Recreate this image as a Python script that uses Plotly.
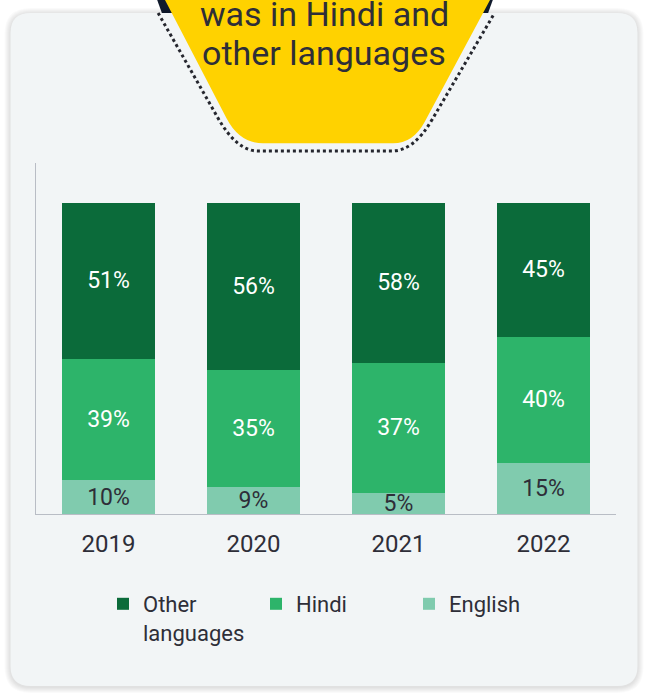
import plotly.graph_objects as go

# ---- data ----
years = ["2019", "2020", "2021", "2022"]
series_names = ["English", "Hindi", "Other<br>languages"]
english_share = [10.9, 8.8, 6.8, 16.5]
hindi_share = [38.9, 37.3, 41.8, 40.5]
other_share = [50.2, 53.9, 51.4, 43.0]
english_label = ["10%", "9%", "5%", "15%"]
hindi_label = ["39%", "35%", "37%", "40%"]
other_label = ["51%", "56%", "58%", "45%"]
header_lines = ["was in Hindi and", "other languages"]

# ---- style ----
C_OTHER = "#0b6b3a"
C_HINDI = "#2db46a"
C_ENG = "#80cbae"
C_TEXT = "#2e2e38"
FONT = "Roboto"
W, H = 645, 697
L, R, T, B = 36, 29, 163, 183
PW, PH = W - L - R, H - T - B


def px(x):
    return (x - L) / PW


def py(y):
    return (H - B - y) / PH


def P(pts):
    return " ".join(pts)


def rounded_rect(x0, y0, x1, y1, r):
    return P([
        f"M{px(x0 + r)},{py(y0)}", f"L{px(x1 - r)},{py(y0)}",
        f"Q{px(x1)},{py(y0)} {px(x1)},{py(y0 + r)}",
        f"L{px(x1)},{py(y1 - r)}",
        f"Q{px(x1)},{py(y1)} {px(x1 - r)},{py(y1)}",
        f"L{px(x0 + r)},{py(y1)}",
        f"Q{px(x0)},{py(y1)} {px(x0)},{py(y1 - r)}",
        f"L{px(x0)},{py(y0 + r)}",
        f"Q{px(x0)},{py(y0)} {px(x0 + r)},{py(y0)}", "Z"])


fig = go.Figure()
for name, vals, labels, color, tcol in [
    (series_names[0], english_share, english_label, C_ENG, C_TEXT),
    (series_names[1], hindi_share, hindi_label, C_HINDI, "white"),
    (series_names[2], other_share, other_label, C_OTHER, "white"),
]:
    fig.add_trace(go.Bar(
        x=years, y=vals, name=name, marker=dict(color=color, line=dict(width=0)),
        text=labels, textposition="inside", insidetextanchor="middle",
        constraintext="none", textangle=0,
        textfont=dict(family=FONT, size=23, color=tcol),
        hoverinfo="skip"))

shapes = []
# navy band peeking at top
shapes.append(dict(type="path", xref="paper", yref="paper", layer="below",
                   path=P([f"M{px(150)},{py(-20)}", f"L{px(168)},{py(30)}",
                           f"L{px(482)},{py(30)}", f"L{px(500)},{py(-20)}", "Z"]),
                   fillcolor="#101a2c", line=dict(width=0)))
# card shadow
for i in range(1, 7):
    shapes.append(dict(type="path", xref="paper", yref="paper", layer="below",
                       path=rounded_rect(10.5 - i, 13 - i + 1, 637.5 + i, 686 + i + 1, 20 + i),
                       fillcolor="rgba(0,0,0,0.02)", line=dict(width=0)))
# card
shapes.append(dict(type="path", xref="paper", yref="paper", layer="below",
                   path=rounded_rect(10.5, 13, 637.5, 686, 20),
                   fillcolor="#f2f5f6", line=dict(width=0)))
# dotted outline
shapes.append(dict(type="path", xref="paper", yref="paper", layer="below",
                   path=P([f"M{px(150.7 + 0.57 * 13)},{py(13)}",
                           f"L{px(150.7 + 0.57 * 118)},{py(118)}",
                           f"Q{px(236.8)},{py(151)} {px(258)},{py(151)}",
                           f"L{px(392)},{py(151)}",
                           f"Q{px(413.7)},{py(151)} {px(502.2 - 0.586 * 120)},{py(120)}",
                           f"L{px(502.2 - 0.586 * 13)},{py(13)}"]),
                   fillcolor="rgba(0,0,0,0)",
                   line=dict(color="#25262e", width=3, dash="3px,3px")))
# yellow hexagon
shapes.append(dict(type="path", xref="paper", yref="paper", layer="below",
                   path=P([f"M{px(165 - 5.2)},{py(-10)}",
                           f"L{px(165 + 0.52 * 118)},{py(118)}",
                           f"Q{px(239.5)},{py(143.3)} {px(263)},{py(143.3)}",
                           f"L{px(393)},{py(143.3)}",
                           f"Q{px(413.2)},{py(143.3)} {px(490 - 0.536 * 121.7)},{py(121.7)}",
                           f"L{px(490 + 5.36)},{py(-10)}", "Z"]),
                   fillcolor="#ffd200", line=dict(width=0)))

annotations = []
for line_text, yc in zip(header_lines, [14.3, 52.6]):
    annotations.append(dict(text=line_text, xref="paper", yref="paper",
                            x=px(324), y=py(yc), xanchor="center", yanchor="middle",
                            showarrow=False, font=dict(family=FONT, size=34, color=C_TEXT)))

fig.update_layout(
    width=W, height=H, margin=dict(l=L, r=R, t=T, b=B, autoexpand=False),
    paper_bgcolor="white", plot_bgcolor="rgba(0,0,0,0)",
    barmode="stack", bargap=0.3566,
    font=dict(family=FONT, color=C_TEXT),
    shapes=shapes, annotations=annotations,
    showlegend=True,
    legend=dict(orientation="h", traceorder="reversed", valign="top",
                x=px(103), xanchor="left", y=py(583), yanchor="top",
                entrywidth=108, entrywidthmode="pixels",
                font=dict(family=FONT, size=22, color=C_TEXT),
                bgcolor="rgba(0,0,0,0)", itemclick=False),
    xaxis=dict(type="category", range=[-0.5, 3.5], showline=True, linecolor="#b9bdc5",
               linewidth=1, showgrid=False, zeroline=False, ticks="",
               tickfont=dict(family=FONT, size=24, color=C_TEXT), ticklabelstandoff=8,
               fixedrange=True),
    yaxis=dict(range=[0, 112.75], showline=True, linecolor="#b9bdc5", linewidth=1,
               showgrid=False, zeroline=False, showticklabels=False, ticks="",
               fixedrange=True),
)

fig.write_html("out.html", config={"displayModeBar": False},
               post_script="document.body.style.margin='0';document.body.style.overflow='hidden';")
